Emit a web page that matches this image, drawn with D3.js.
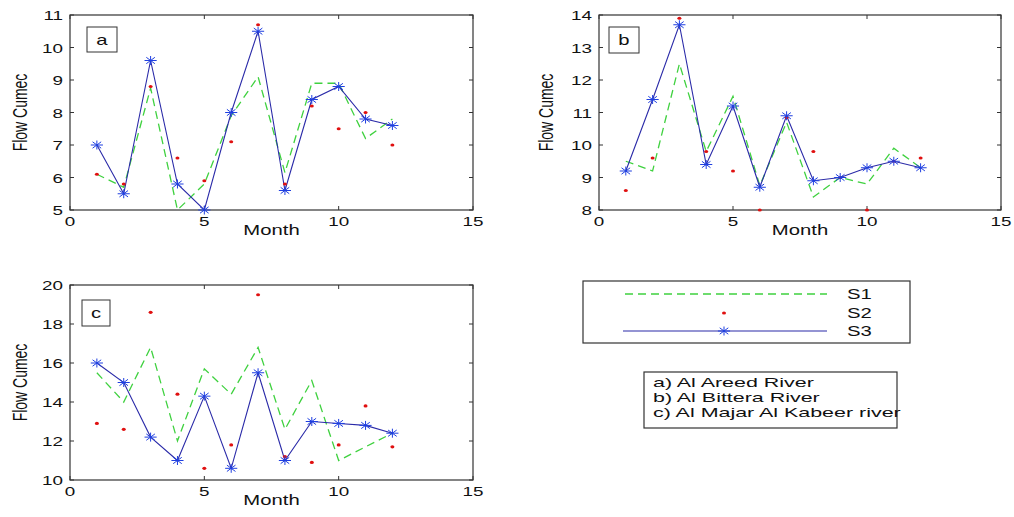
<!DOCTYPE html>
<html>
<head>
<meta charset="utf-8">
<script src="https://cdn.jsdelivr.net/npm/d3@7"></script>
<style>
  html, body { margin: 0; padding: 0; background: #fff; }
  svg { display: block; }
  text { font-family: "Liberation Sans", Arial, sans-serif; fill: #111; }
</style>
</head>
<body>
<svg id="chart" width="1014" height="517"></svg>
<script>
// Monthly flow (cumec) for three rivers, three series each
const months = [1, 2, 3, 4, 5, 6, 7, 8, 9, 10, 11, 12];

const areedS1 = [6.1, 5.7, 8.75, 5.0, 5.8, 7.9, 9.1, 6.15, 8.9, 8.9, 7.2, 7.8];
const areedS2 = [6.1, 5.8, 8.8, 6.6, 5.9, 7.1, 10.7, 5.8, 8.2, 7.5, 8.0, 7.0];
const areedS3 = [7.0, 5.5, 9.6, 5.8, 5.0, 8.0, 10.5, 5.6, 8.4, 8.8, 7.8, 7.6];

const bitteraS1 = [9.5, 9.2, 12.5, 9.8, 11.5, 8.75, 10.7, 8.4, 9.0, 8.8, 9.9, 9.3];
const bitteraS2 = [8.6, 9.6, 13.9, 9.8, 9.2, 8.0, 10.85, 9.8, 9.0, 8.0, 9.5, 9.6];
const bitteraS3 = [9.2, 11.4, 13.7, 9.4, 11.2, 8.7, 10.9, 8.9, 9.0, 9.3, 9.5, 9.3];

const majarS1 = [15.5, 14.0, 16.8, 12.0, 15.7, 14.4, 16.8, 12.6, 15.1, 11.0, 11.7, 12.4];
const majarS2 = [12.9, 12.6, 18.6, 14.4, 10.6, 11.8, 19.5, 11.2, 10.9, 11.8, 13.8, 11.7];
const majarS3 = [16.0, 15.0, 12.2, 11.0, 14.3, 10.6, 15.5, 11.0, 13.0, 12.9, 12.8, 12.4];

const xTicks = [0, 5, 10, 15];
const yTicksA = [5, 6, 7, 8, 9, 10, 11];
const yTicksB = [8, 9, 10, 11, 12, 13, 14];
const yTicksC = [10, 12, 14, 16, 18, 20];

const seriesNames = ["S1", "S2", "S3"];
const riverNames = ["a) Al Areed River", "b) Al Bittera River", "c) Al Majar Al Kabeer river"];

const GREEN = "#3fd13f", RED = "#e01010", BLUE = "#2a2aa8", STAR = "#1f3fe0", AXIS = "#333";
const SX = 1.45; // wide text proportion

const svg = d3.select("#chart");

function label(g, x, y, str, size, anchor, rotate, sx) {
  return g.append("text")
    .attr("transform", `translate(${x},${y}) scale(${sx || SX},1)` + (rotate ? " rotate(-90)" : ""))
    .attr("font-size", size)
    .attr("text-anchor", anchor || "start")
    .text(str);
}

function star(g, x, y, r) {
  const s = g.append("g").attr("transform", `translate(${x},${y}) scale(1.35,1)`);
  const d = r * Math.SQRT1_2;
  s.append("path")
    .attr("d", `M${-r},0L${r},0M0,${-r}L0,${r}M${-d},${-d}L${d},${d}M${-d},${d}L${d},${-d}`)
    .attr("stroke", STAR).attr("stroke-width", 1).attr("fill", "none")
    .attr("vector-effect", "non-scaling-stroke");
}

function panel(box, yDomain, yTicks, s1, s2, s3, tag, tagBox, yLabelGap) {
  const g = svg.append("g");
  const x = d3.scaleLinear().domain([0, 15]).range([box.left, box.right]);
  const y = d3.scaleLinear().domain(yDomain).range([box.bottom, box.top]);

  g.append("rect")
    .attr("x", box.left).attr("y", box.top)
    .attr("width", box.right - box.left).attr("height", box.bottom - box.top)
    .attr("fill", "#fff").attr("stroke", AXIS).attr("stroke-width", 1.2);

  // inward ticks on all four sides
  const tl = 4;
  xTicks.forEach(v => {
    g.append("line").attr("x1", x(v)).attr("x2", x(v)).attr("y1", box.bottom).attr("y2", box.bottom - tl).attr("stroke", AXIS);
    g.append("line").attr("x1", x(v)).attr("x2", x(v)).attr("y1", box.top).attr("y2", box.top + tl).attr("stroke", AXIS);
    label(g, x(v), box.bottom + 16, String(v), 13, "middle");
  });
  yTicks.forEach(v => {
    g.append("line").attr("x1", box.left).attr("x2", box.left + tl).attr("y1", y(v)).attr("y2", y(v)).attr("stroke", AXIS);
    g.append("line").attr("x1", box.right).attr("x2", box.right - tl).attr("y1", y(v)).attr("y2", y(v)).attr("stroke", AXIS);
    label(g, box.left - 7, y(v) + 5, String(v), 13, "end");
  });

  label(g, (box.left + box.right) / 2, box.bottom + 25, "Month", 14, "middle");
  label(g, box.left - yLabelGap, (box.top + box.bottom) / 2, "Flow Cumec", 14, "middle", true);

  const line = d3.line().x((d, i) => x(months[i])).y(d => y(d));

  g.append("path").datum(s1).attr("d", line)
    .attr("fill", "none").attr("stroke", GREEN).attr("stroke-width", 1.3)
    .attr("stroke-dasharray", "8,5");

  g.append("path").datum(s3).attr("d", line)
    .attr("fill", "none").attr("stroke", BLUE).attr("stroke-width", 1.1);

  s2.forEach((v, i) => {
    g.append("ellipse").attr("cx", x(months[i])).attr("cy", y(v))
      .attr("rx", 2).attr("ry", 1.6).attr("fill", RED);
  });
  s3.forEach((v, i) => star(g, x(months[i]), y(v), 4.5));

  g.append("rect")
    .attr("x", tagBox.x).attr("y", tagBox.y).attr("width", tagBox.w).attr("height", tagBox.h)
    .attr("fill", "#fff").attr("stroke", AXIS).attr("stroke-width", 1);
  label(g, tagBox.x + tagBox.w / 2, tagBox.y + tagBox.h / 2 + 5, tag, 14, "middle");
}

panel({ left: 70, right: 473, top: 15, bottom: 210 }, [5, 11], yTicksA,
  areedS1, areedS2, areedS3, "a", { x: 87, y: 27, w: 30, h: 25 }, 43);
panel({ left: 599, right: 1001, top: 15, bottom: 210 }, [8, 14], yTicksB,
  bitteraS1, bitteraS2, bitteraS3, "b", { x: 609, y: 27, w: 30, h: 26 }, 46);
panel({ left: 70, right: 473, top: 285, bottom: 480 }, [10, 20], yTicksC,
  majarS1, majarS2, majarS3, "c", { x: 82, y: 300, w: 28, h: 26 }, 43);

// series legend
const lg = svg.append("g");
lg.append("rect").attr("x", 583).attr("y", 281).attr("width", 327).attr("height", 62)
  .attr("fill", "#fff").attr("stroke", AXIS).attr("stroke-width", 1.2);
const rowY = [294, 313, 331];
lg.append("line").attr("x1", 625).attr("x2", 827).attr("y1", rowY[0]).attr("y2", rowY[0])
  .attr("stroke", GREEN).attr("stroke-width", 1.3).attr("stroke-dasharray", "8,5");
lg.append("ellipse").attr("cx", 724).attr("cy", rowY[1]).attr("rx", 2).attr("ry", 1.6).attr("fill", RED);
lg.append("line").attr("x1", 623).attr("x2", 827).attr("y1", rowY[2]).attr("y2", rowY[2])
  .attr("stroke", BLUE).attr("stroke-width", 1.1);
star(lg, 724, rowY[2], 4.5);
seriesNames.forEach((n, i) => label(lg, 847, rowY[i] + 5, n, 14, "start"));

// river key
const rk = svg.append("g");
rk.append("rect").attr("x", 644).attr("y", 372).attr("width", 253).attr("height", 56)
  .attr("fill", "#fff").attr("stroke", AXIS).attr("stroke-width", 1.2);
riverNames.forEach((n, i) => label(rk, 653, 387 + i * 15, n, 13, "start", false, 1.65));
</script>
</body>
</html>
